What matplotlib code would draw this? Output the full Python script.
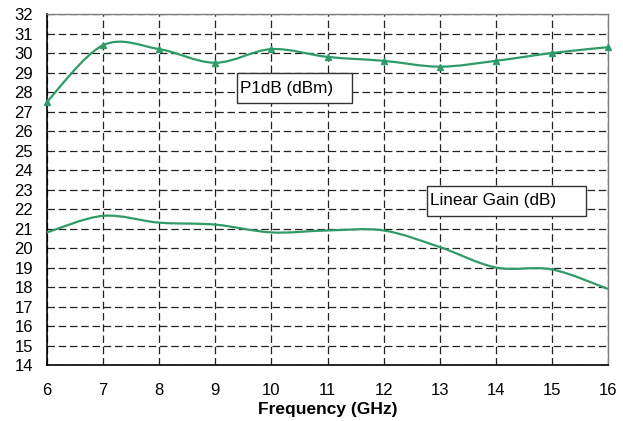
import matplotlib
matplotlib.use('Agg')
import matplotlib.pyplot as plt
from matplotlib.path import Path
from matplotlib.patches import PathPatch, Rectangle

plt.rcParams['font.family'] = ['Liberation Sans', 'DejaVu Sans']

freq = [6, 7, 8, 9, 10, 11, 12, 13, 14, 15, 16]
p1db = [27.5, 30.4, 30.2, 29.5, 30.2, 29.8, 29.6, 29.3, 29.6, 30.0, 30.3]
gain = [20.8, 21.65, 21.3, 21.2, 20.8, 20.9, 20.9, 20.05, 19.0, 18.9, 17.9]
x_ticks = list(range(6, 17))
y_ticks = list(range(14, 33))

GREEN = '#2f9b68'


def smooth_path(xs, ys):
    # Catmull-Rom curve drawn as cubic bezier segments (Excel-like smoothing)
    pts = list(zip(xs, ys))
    verts = [pts[0]]
    codes = [Path.MOVETO]
    n = len(pts)
    for i in range(n - 1):
        p0 = pts[i - 1] if i > 0 else pts[i]
        p1 = pts[i]
        p2 = pts[i + 1]
        p3 = pts[i + 2] if i + 2 < n else pts[i + 1]
        c1 = (p1[0] + (p2[0] - p0[0]) / 6, p1[1] + (p2[1] - p0[1]) / 6)
        c2 = (p2[0] - (p3[0] - p1[0]) / 6, p2[1] - (p3[1] - p1[1]) / 6)
        verts += [c1, c2, p2]
        codes += [Path.CURVE4] * 3
    return Path(verts, codes)


fig = plt.figure(figsize=(6.23, 4.21), dpi=100)
ax = fig.add_axes([0.0754, 0.133, 0.9006, 0.8337])

ax.set_xlim(6, 16)
ax.set_ylim(14, 32)
ax.set_xticks(x_ticks)
ax.set_yticks(y_ticks)
ax.tick_params(length=0, labelsize=12)
ax.tick_params(axis='x', pad=13)
ax.tick_params(axis='y', pad=10)
ax.grid(True, color='#222222', linestyle=(0, (6, 3)), linewidth=0.9)
ax.set_axisbelow(True)

for side in ['top', 'right']:
    ax.spines[side].set_color('#808080')
    ax.spines[side].set_linewidth(1)
for side in ['left', 'bottom']:
    ax.spines[side].set_color('black')
    ax.spines[side].set_linewidth(1.2)

ax.add_patch(PathPatch(smooth_path(freq, p1db), facecolor='none',
                       edgecolor=GREEN, lw=1.6, clip_on=False, zorder=3))
ax.plot(freq, p1db, linestyle='none', marker='^', color=GREEN,
        markersize=5, clip_on=False, zorder=4)
ax.add_patch(PathPatch(smooth_path(freq, gain), facecolor='none',
                       edgecolor=GREEN, lw=1.6, clip_on=False, zorder=3))

# label boxes
for (x0, y0, w, h, txt) in [(0.339, 0.746, 0.205, 0.085, 'P1dB (dBm)'),
                            (0.677, 0.425, 0.283, 0.085, 'Linear Gain (dB)')]:
    ax.add_patch(Rectangle((x0, y0), w, h, transform=ax.transAxes,
                           facecolor='white', edgecolor='#333333', lw=1, zorder=5))
    ax.text(x0 + 0.005, y0 + h / 2, txt, transform=ax.transAxes,
            ha='left', va='center', fontsize=12.3, zorder=6)

ax.set_xlabel('Frequency (GHz)', fontsize=12.5, fontweight='bold', labelpad=3)

fig.savefig('out.png', dpi=100)
